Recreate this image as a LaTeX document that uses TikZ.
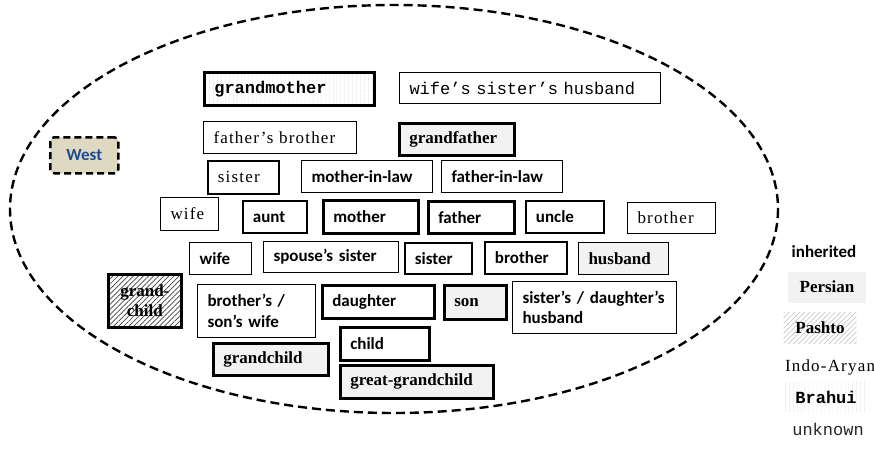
\documentclass[tikz,border=0pt]{standalone}
\usepackage{fontspec}
\setmainfont{Liberation Serif}
\setsansfont{Carlito}
\setmonofont{Liberation Mono}
\newfontfamily\iaserif[LetterSpace=7]{Liberation Serif}
\usetikzlibrary{patterns.meta}
\definecolor{persgray}{RGB}{242,242,242}
\definecolor{westfill}{RGB}{221,217,195}
\definecolor{westblue}{RGB}{31,73,145}
\newcommand{\inhfont}{\fontsize{17}{20.5}\selectfont\sffamily\bfseries}
\newcommand{\persfont}{\fontsize{17}{20}\selectfont\rmfamily\bfseries}
\newcommand{\iafont}{\fontsize{17}{20}\selectfont\iaserif}
\newcommand{\brafont}{\fontsize{17}{20}\selectfont\ttfamily\bfseries}
\newcommand{\unkfont}{\fontsize{17}{20}\selectfont\ttfamily}
% name, style, x, y, width, height, text width, text
\newcommand{\kbox}[8]{\node[#2, minimum width=#5pt, minimum height=#6pt, text width=#7pt] (#1) at (#3,#4) {#8};}

\begin{document}
\begin{tikzpicture}[x=1pt,y=-1pt,
    box/.style={draw, anchor=north west, inner xsep=10pt, inner ysep=2pt, align=left, line width=1pt},
    thn/.style={line width=1pt}, med/.style={line width=1.8pt}, thk/.style={line width=2.6pt},
    inh/.style={box, font=\inhfont},
    pers/.style={box, fill=persgray, font=\persfont},
    ia/.style={box, font=\iafont},
    bra/.style={box, font=\brafont, pattern={Lines[angle=90,distance=4pt,line width=0.6pt]}, pattern color=black!12},
    unk/.style={box, font=\unkfont},
    pasht/.style={pattern={Lines[angle=45,distance=3.6pt,line width=0.7pt]}}]
  \useasboundingbox (0,0) rectangle (874,450);
  \draw[line width=2.4pt, dash pattern=on 9pt off 5pt] (394,209) coordinate (c) ellipse [x radius=384, y radius=204];

  \node[draw, line width=2.5pt, dash pattern=on 7pt off 4pt, rounded corners=4pt, fill=westfill,
        minimum width=68pt, minimum height=36pt, font=\fontsize{17}{20}\selectfont\sffamily\bfseries,
        text=westblue, anchor=north west] (west) at (49,136) {West};

  \kbox{grandmother}{bra,thk}{203}{71}{170}{33}{150}{grandmother}
  \kbox{wsh}{unk,thn}{399}{72}{261}{31}{241}{wife’s sister’s husband}
  \kbox{fbrother}{ia,thn}{203}{121}{153}{32}{133}{father’s brother}
  \kbox{grandfather}{pers,thk}{398}{122}{115}{32}{95}{grandfather}
  \kbox{sisterA}{ia,med}{207}{160}{71}{33}{51}{sister}
  \kbox{mil}{inh,thn}{301}{160}{131}{32}{111}{mother-in-law}
  \kbox{fil}{inh,thn}{441}{160}{121}{32}{101}{father-in-law}

  \kbox{wifeA}{ia,thn}{160}{197}{58}{33}{38}{wife}
  \kbox{aunt}{inh,med}{242}{200}{64}{32}{44}{aunt}
  \kbox{mother}{inh,thk}{322}{199}{95}{33}{75}{mother}
  \kbox{father}{inh,thk}{427}{200}{86}{32}{66}{father}
  \kbox{uncle}{inh,med}{525}{200}{78}{32}{58}{uncle}
  \kbox{brotherA}{ia,thn}{627}{202}{88}{31}{68}{brother}

  \kbox{wife}{inh,line width=1.4pt}{189}{242}{62}{32}{42}{wife}
  \kbox{ssister}{inh,thn}{263}{241}{135}{31}{115}{spouse’s sister}
  \kbox{sister}{inh,med}{404}{242}{67}{31}{47}{sister}
  \kbox{brother}{inh,med}{484}{241}{82}{32}{62}{brother}
  \kbox{husband}{pers,thn}{578}{242}{90}{32}{70}{husband}

  \node[draw, thk, pasht, pattern color=black!75, anchor=north west, minimum width=73pt, minimum height=53pt,
        align=center, font=\fontsize{17}{20}\selectfont\bfseries] (gchildP) at (108,274) {grand-\\child};
  \kbox{bswife}{inh,thn}{197}{284}{118}{53}{98}{brother’s /\\ son’s wife}
  \kbox{daughter}{inh,thk}{321}{284}{112}{33}{92}{daughter}
  \kbox{son}{pers,thk}{443}{284}{62}{34}{42}{son}
  \kbox{sdhusband}{inh,thn}{512}{281}{164}{52}{144}{sister’s / daughter’s\\ husband}
  \kbox{child}{inh,thk}{339}{326}{89}{33}{69}{child}
  \kbox{grandchild}{pers,thk}{212}{342}{115}{32}{95}{grandchild}
  \kbox{ggchild}{pers,thk}{339}{364}{153}{33}{133}{great-grandchild}

  % legend
  \node[font=\inhfont] (inherited) at (824,252) {inherited};
  \node[fill=persgray, minimum width=78pt, minimum height=31pt, font=\persfont] (persian) at (827,287) {Persian};
  \node[pasht, pattern color=black!22, minimum width=73pt, minimum height=31pt, font=\persfont] (pashto) at (820,328) {Pashto};
  \node[font=\fontsize{17}{20}\selectfont\iaserif] (indoaryan) at (830,367) {Indo-Aryan};
  \node[pattern={Lines[angle=90,distance=4pt,line width=0.6pt]}, pattern color=black!12,
        minimum width=84pt, minimum height=31pt, font=\brafont] (brahui) at (826,397) {Brahui};
  \node[font=\unkfont, text=black!85] (unknown) at (828,429) {unknown};
\end{tikzpicture}
\end{document}
